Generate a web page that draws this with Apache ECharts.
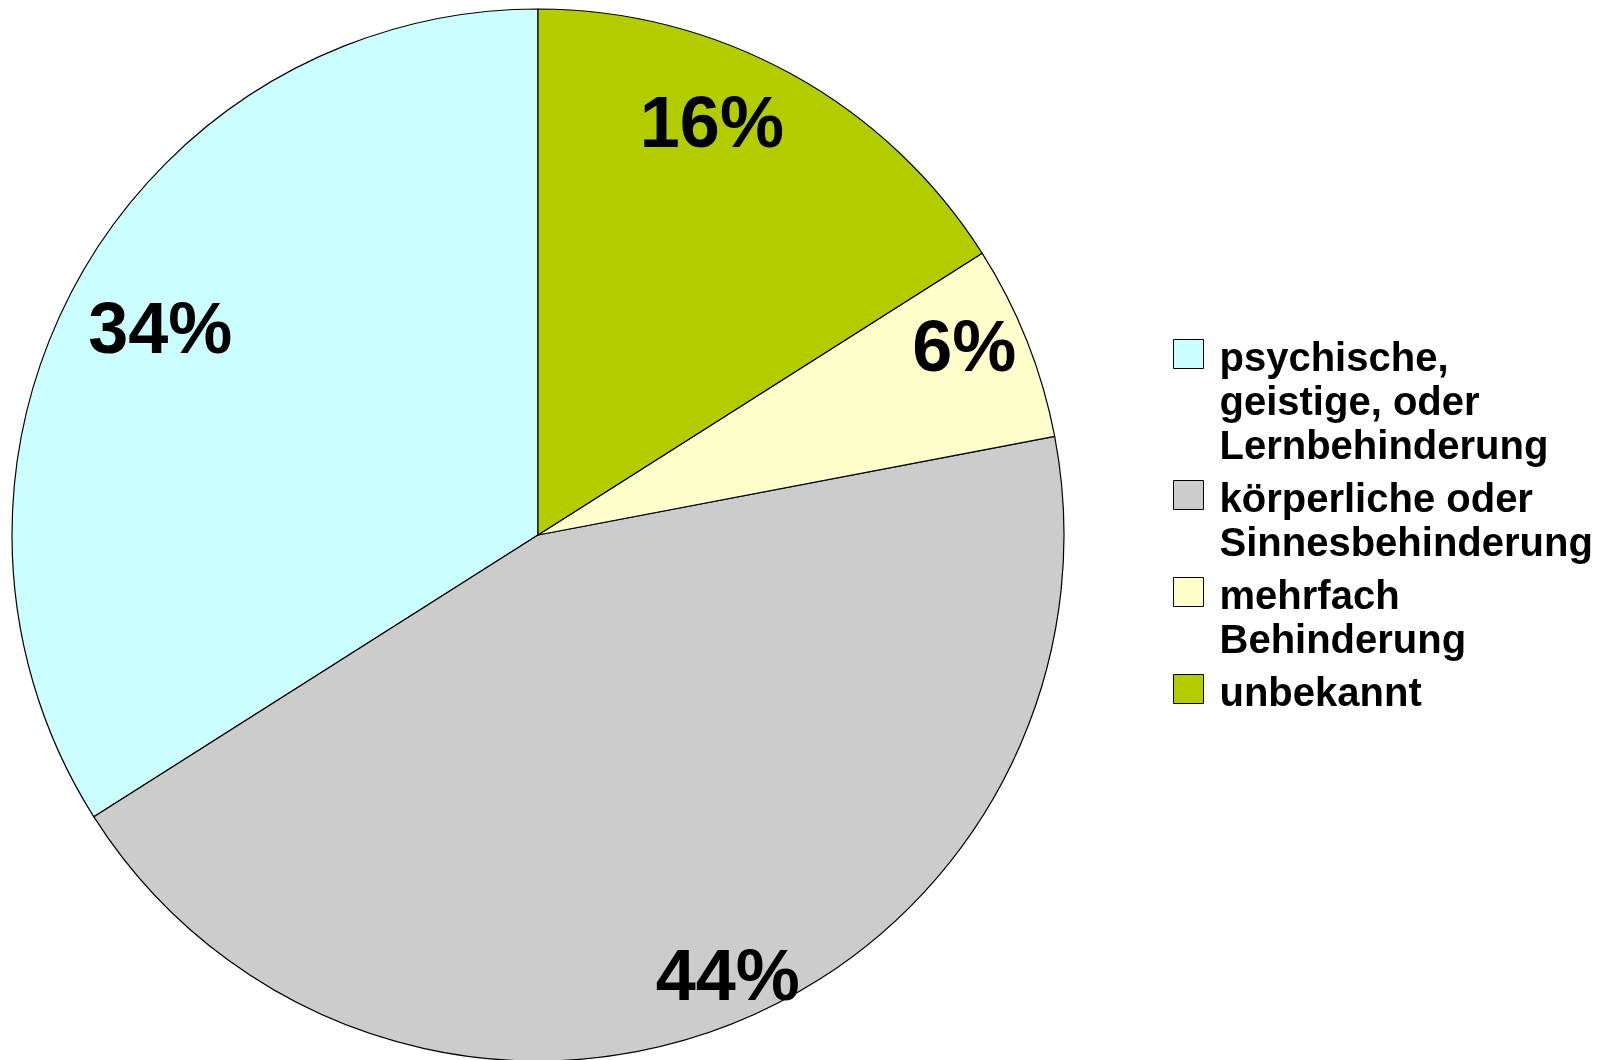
<!DOCTYPE html>
<html>
<head>
<meta charset="utf-8">
<script src="https://cdn.jsdelivr.net/npm/echarts@6/dist/echarts.min.js"></script>
<style>
  html, body { margin: 0; padding: 0; background: #fff; }
  #chart { width: 1613px; height: 1060px; }
</style>
</head>
<body>
<div id="chart"></div>
<script>
// 数据：图例顺序（逆时针从 12 点开始）
const categories = [
  'psychische,\ngeistige, oder\nLernbehinderung',
  'körperliche oder\nSinnesbehinderung',
  'mehrfach\nBehinderung',
  'unbekannt'
];
const values = [34, 44, 6, 16];
const colors = ['#ccffff', '#cccccc', '#ffffcc', '#b3cc00'];

const FONT = '"Liberation Sans", Arial, Helvetica, sans-serif';
const R = 526;
const CENTER = [538, 535];
const LINE_H = 44;
const TEXT_DROP = 6; // 文字相对图标往下偏一点
// 每个图例图标中心的 y
const legendCenters = [354, 495, 592, 689];
// 百分比标签相对默认位置的微调
const labelShift = [[24, 19], [21, 19], [0, -15], [-47, -6]];

const chart = echarts.init(document.getElementById('chart'));

const txt = { fontFamily: FONT, fontSize: 40, fontWeight: 'bold', color: '#000', lineHeight: LINE_H };

// 每项一个图例；顶部加一个空白行，让图标对齐第一行文字
const legends = categories.map((name, i) => {
  const n = name.split('\n').length;
  return {
    data: [name],
    orient: 'vertical',
    left: 1173,
    top: legendCenters[i] - (2 * n - 1) * LINE_H / 2 - TEXT_DROP,
    padding: 0,
    itemWidth: 30,
    itemHeight: 29,
    selectedMode: false,
    icon: 'rect',
    itemStyle: { borderColor: '#000', borderWidth: 1 },
    formatter: (nm) => '{s|\u200b}\n' + nm.split('\n').map(l => '{t|' + l + '}').join('\n'),
    textStyle: Object.assign({}, txt, {
      padding: [0, 0, 0, 11],
      rich: {
        s: { fontFamily: FONT, fontSize: 1, lineHeight: (n - 1) * LINE_H + 2 * TEXT_DROP },
        t: txt
      }
    })
  };
});

const pieData = categories.map((name, i) => ({
  name: name,
  value: values[i],
  itemStyle: { color: colors[i] }
}));

chart.setOption({
  backgroundColor: '#fff',
  animation: false,
  legend: legends,
  series: [
    {
      type: 'pie',
      center: CENTER,
      radius: [0, R],
      startAngle: 90,
      clockwise: false,
      avoidLabelOverlap: false,
      silent: true,
      itemStyle: { borderColor: '#000', borderWidth: 1.2 },
      label: { show: false },
      labelLine: { show: false },
      data: pieData
    },
    {
      // 透明覆盖层，只用来把百分比标签放在靠外的位置
      type: 'pie',
      center: CENTER,
      radius: [385, R],
      startAngle: 90,
      clockwise: false,
      avoidLabelOverlap: false,
      silent: true,
      itemStyle: { color: 'transparent', borderWidth: 0 },
      label: {
        show: true,
        position: 'inside',
        formatter: '{c}%',
        fontFamily: FONT,
        fontSize: 72,
        fontWeight: 'bold',
        color: '#000'
      },
      labelLine: { show: false },
      labelLayout: (params) => ({
        dx: labelShift[params.dataIndex][0],
        dy: labelShift[params.dataIndex][1]
      }),
      data: categories.map((name, i) => ({
        name: name,
        value: values[i],
        itemStyle: { color: 'transparent' }
      }))
    }
  ]
});
</script>
</body>
</html>
